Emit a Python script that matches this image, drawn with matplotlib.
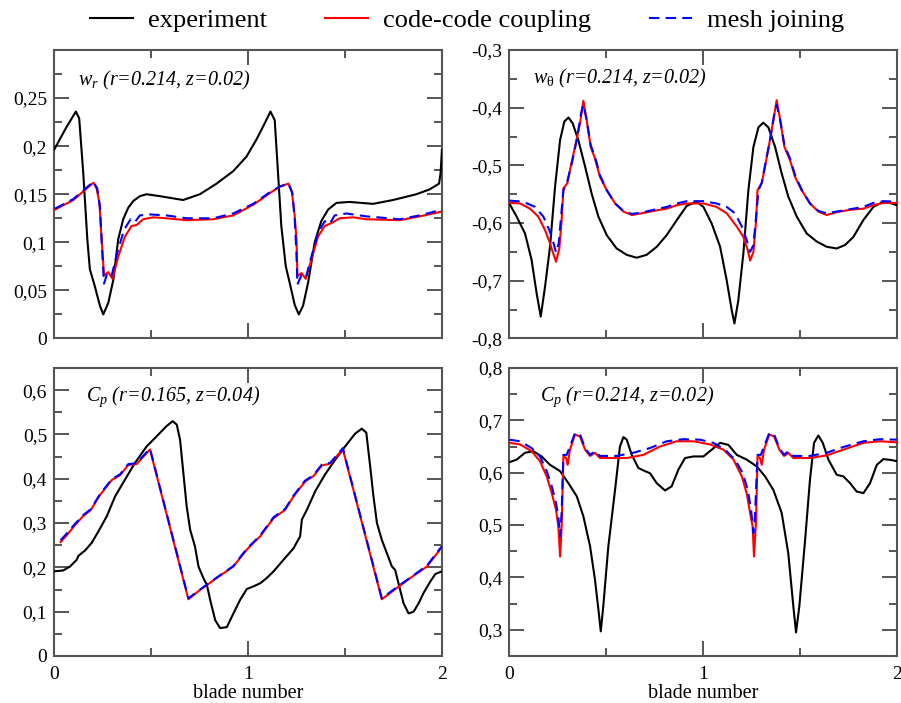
"""Blade-to-blade profiles: experiment vs. code-code coupling vs. mesh joining."""

import matplotlib
matplotlib.use("Agg")
import matplotlib.pyplot as plt
from matplotlib.ticker import FixedLocator, FuncFormatter, MultipleLocator

plt.rcParams["font.family"] = ["Liberation Serif", "DejaVu Serif"]
plt.rcParams["mathtext.fontset"] = "custom"
plt.rcParams["mathtext.rm"] = "Liberation Serif"
plt.rcParams["mathtext.it"] = "Liberation Serif:italic"

# ---- w_r (r=0.214, z=0.02) ----
WR_EXP_X = [0, 0.065, 0.113, 0.130, 0.151, 0.172, 0.185, 0.211, 0.237, 0.254, 0.280, 0.306,
            0.331, 0.357, 0.383, 0.409, 0.443, 0.477, 0.546, 0.666, 0.752, 0.838, 0.924,
            0.992, 1.044, 1.087, 1.116, 1.138, 1.155, 1.172, 1.195, 1.215, 1.241, 1.262,
            1.284, 1.310, 1.344, 1.378, 1.413, 1.456, 1.524, 1.645, 1.748, 1.868, 1.936,
            1.985, 1.993, 2.0]
WR_EXP = [0.196, 0.220, 0.236, 0.229, 0.172, 0.103, 0.072, 0.054, 0.034, 0.025, 0.037, 0.061,
          0.103, 0.124, 0.136, 0.143, 0.148, 0.150, 0.148, 0.144, 0.150, 0.161, 0.174,
          0.189, 0.207, 0.224, 0.236, 0.227, 0.172, 0.117, 0.075, 0.058, 0.035, 0.025,
          0.034, 0.058, 0.100, 0.122, 0.134, 0.141, 0.142, 0.140, 0.144, 0.150, 0.155,
          0.161, 0.172, 0.196]
WR_CPL_X = [0.005, 0.100, 0.203, 0.220, 0.234, 0.246, 0.258, 0.280, 0.302, 0.331, 0.366, 0.400,
            0.426, 0.460, 0.512, 0.580, 0.683, 0.821, 0.924, 1.027, 1.112, 1.164, 1.209,
            1.226, 1.240, 1.250, 1.255, 1.276, 1.298, 1.327, 1.361, 1.396, 1.430, 1.473,
            1.542, 1.610, 1.782, 1.885, 2.0]
WR_CPL = [0.134, 0.144, 0.162, 0.156, 0.141, 0.103, 0.066, 0.069, 0.062, 0.085, 0.106, 0.117,
          0.118, 0.124, 0.126, 0.125, 0.123, 0.124, 0.128, 0.139, 0.151, 0.158, 0.161,
          0.153, 0.130, 0.103, 0.065, 0.068, 0.062, 0.082, 0.106, 0.117, 0.120, 0.125,
          0.126, 0.124, 0.123, 0.127, 0.132]
WR_MSH_X = [0.005, 0.100, 0.203, 0.223, 0.237, 0.247, 0.258, 0.275, 0.297, 0.326, 0.361, 0.395,
            0.417, 0.443, 0.494, 0.580, 0.683, 0.821, 0.924, 1.027, 1.112, 1.164, 1.209,
            1.229, 1.241, 1.250, 1.255, 1.276, 1.298, 1.327, 1.361, 1.396, 1.421, 1.447,
            1.507, 1.610, 1.782, 1.885, 2.0]
WR_MSH = [0.135, 0.145, 0.163, 0.156, 0.137, 0.096, 0.057, 0.068, 0.065, 0.089, 0.113, 0.124,
          0.121, 0.128, 0.129, 0.128, 0.125, 0.125, 0.130, 0.140, 0.152, 0.158, 0.161,
          0.151, 0.124, 0.089, 0.056, 0.066, 0.063, 0.085, 0.110, 0.122, 0.119, 0.128,
          0.130, 0.127, 0.124, 0.128, 0.134]

# ---- w_theta (r=0.214, z=0.02) ----
WT_EXP_X = [0, 0.038, 0.081, 0.115, 0.141, 0.162, 0.184, 0.210, 0.236, 0.262, 0.284, 0.305,
            0.327, 0.356, 0.391, 0.425, 0.460, 0.503, 0.554, 0.606, 0.657, 0.709, 0.761,
            0.812, 0.864, 0.916, 0.967, 1.002, 1.045, 1.088, 1.122, 1.148, 1.162, 1.182,
            1.208, 1.234, 1.260, 1.286, 1.311, 1.337, 1.372, 1.406, 1.440, 1.484, 1.535,
            1.587, 1.638, 1.690, 1.733, 1.776, 1.827, 1.879, 1.931, 1.974, 2.0]
WT_EXP = [-0.566, -0.589, -0.618, -0.664, -0.722, -0.762, -0.711, -0.641, -0.537, -0.456,
          -0.424, -0.417, -0.427, -0.456, -0.502, -0.549, -0.589, -0.621, -0.644, -0.655,
          -0.660, -0.655, -0.641, -0.621, -0.595, -0.570, -0.563, -0.572, -0.601, -0.641,
          -0.699, -0.751, -0.774, -0.734, -0.653, -0.543, -0.468, -0.434, -0.426, -0.434,
          -0.468, -0.514, -0.554, -0.589, -0.618, -0.632, -0.641, -0.644, -0.638, -0.624,
          -0.595, -0.572, -0.563, -0.566, -0.569]
WT_CPL_X = [0, 0.055, 0.107, 0.150, 0.184, 0.210, 0.227, 0.241, 0.258, 0.270, 0.279, 0.299,
            0.317, 0.339, 0.365, 0.382, 0.399, 0.420, 0.442, 0.468, 0.503, 0.546, 0.589,
            0.632, 0.683, 0.743, 0.812, 0.864, 0.916, 1.002, 1.070, 1.122, 1.174, 1.208,
            1.231, 1.243, 1.260, 1.274, 1.281, 1.303, 1.320, 1.342, 1.363, 1.380, 1.398,
            1.420, 1.449, 1.475, 1.509, 1.552, 1.595, 1.638, 1.690, 1.759, 1.827, 1.879,
            1.931, 2.0]
WT_CPL = [-0.565, -0.566, -0.575, -0.589, -0.612, -0.635, -0.653, -0.667, -0.644, -0.595,
          -0.540, -0.531, -0.502, -0.468, -0.427, -0.388, -0.421, -0.468, -0.488, -0.520,
          -0.543, -0.566, -0.580, -0.586, -0.583, -0.579, -0.575, -0.569, -0.566, -0.566,
          -0.572, -0.583, -0.606, -0.624, -0.647, -0.665, -0.650, -0.595, -0.543, -0.531,
          -0.502, -0.462, -0.421, -0.387, -0.421, -0.468, -0.491, -0.520, -0.543, -0.566,
          -0.580, -0.586, -0.581, -0.577, -0.575, -0.569, -0.565, -0.565]
WT_MSH_X = [0, 0.072, 0.133, 0.176, 0.210, 0.231, 0.241, 0.255, 0.267, 0.279, 0.299, 0.322,
            0.348, 0.370, 0.382, 0.399, 0.420, 0.442, 0.468, 0.503, 0.546, 0.589, 0.632,
            0.683, 0.743, 0.812, 0.864, 0.916, 1.002, 1.070, 1.122, 1.165, 1.200, 1.225,
            1.243, 1.260, 1.274, 1.286, 1.303, 1.325, 1.346, 1.367, 1.380, 1.398, 1.420,
            1.449, 1.475, 1.509, 1.552, 1.595, 1.638, 1.690, 1.759, 1.827, 1.879, 1.931, 2.0]
WT_MSH = [-0.561, -0.563, -0.572, -0.589, -0.615, -0.638, -0.651, -0.635, -0.589, -0.543,
          -0.528, -0.497, -0.456, -0.410, -0.395, -0.421, -0.465, -0.485, -0.517, -0.543,
          -0.566, -0.579, -0.584, -0.582, -0.577, -0.572, -0.566, -0.562, -0.562, -0.566,
          -0.572, -0.583, -0.606, -0.629, -0.650, -0.638, -0.589, -0.543, -0.530, -0.491,
          -0.456, -0.413, -0.395, -0.421, -0.465, -0.488, -0.517, -0.542, -0.566, -0.579,
          -0.583, -0.580, -0.576, -0.572, -0.565, -0.562, -0.563]

# ---- C_p (r=0.165, z=0.04) ----
CP1_EXP_X = [0, 0.048, 0.083, 0.117, 0.126, 0.160, 0.194, 0.229, 0.272, 0.315, 0.366, 0.418,
             0.478, 0.530, 0.581, 0.612, 0.633, 0.650, 0.667, 0.684, 0.702, 0.727, 0.745,
             0.770, 0.788, 0.805, 0.831, 0.856, 0.891, 0.925, 0.960, 0.994, 1.028, 1.063,
             1.097, 1.132, 1.183, 1.235, 1.269, 1.278, 1.304, 1.347, 1.398, 1.450, 1.501,
             1.553, 1.587, 1.610, 1.630, 1.647, 1.665, 1.690, 1.716, 1.742, 1.759, 1.776,
             1.802, 1.828, 1.854, 1.880, 1.905, 1.940, 1.966, 2.0]
CP1_EXP = [0.191, 0.193, 0.202, 0.217, 0.226, 0.238, 0.255, 0.281, 0.315, 0.360, 0.398, 0.436,
           0.473, 0.496, 0.519, 0.530, 0.522, 0.488, 0.413, 0.338, 0.285, 0.247, 0.202,
           0.176, 0.161, 0.127, 0.081, 0.063, 0.065, 0.096, 0.127, 0.151, 0.157, 0.164,
           0.176, 0.191, 0.217, 0.243, 0.270, 0.308, 0.330, 0.372, 0.410, 0.443, 0.473,
           0.502, 0.513, 0.504, 0.428, 0.360, 0.300, 0.262, 0.232, 0.202, 0.194, 0.164,
           0.119, 0.096, 0.100, 0.119, 0.142, 0.168, 0.185, 0.191]
CP1_CPL_X = [0.034, 0.065, 0.108, 0.151, 0.189, 0.237, 0.298, 0.341, 0.383, 0.426, 0.461,
             0.495, 0.693, 0.753, 0.839, 0.925, 0.994, 1.063, 1.132, 1.192, 1.235, 1.295,
             1.338, 1.381, 1.424, 1.458, 1.489, 1.690, 1.751, 1.837, 1.923, 2.0]
CP1_CPL = [0.257, 0.272, 0.295, 0.316, 0.329, 0.363, 0.397, 0.408, 0.431, 0.433, 0.450,
           0.466, 0.128, 0.149, 0.176, 0.202, 0.240, 0.270, 0.311, 0.330, 0.360, 0.394,
           0.406, 0.430, 0.434, 0.451, 0.467, 0.128, 0.148, 0.176, 0.202, 0.246]
CP1_MSH_X = [0.034, 0.065, 0.108, 0.151, 0.189, 0.237, 0.298, 0.341, 0.383, 0.426, 0.461,
             0.495, 0.693, 0.753, 0.839, 0.925, 0.994, 1.063, 1.132, 1.192, 1.235, 1.295,
             1.338, 1.381, 1.424, 1.458, 1.489, 1.690, 1.751, 1.837, 1.923, 2.0]
CP1_MSH = [0.261, 0.276, 0.298, 0.318, 0.331, 0.365, 0.399, 0.410, 0.433, 0.435, 0.452,
           0.468, 0.130, 0.150, 0.177, 0.203, 0.242, 0.272, 0.313, 0.332, 0.362, 0.396,
           0.408, 0.432, 0.436, 0.453, 0.469, 0.130, 0.150, 0.177, 0.204, 0.248]

# ---- C_p (r=0.214, z=0.02) ----
CP2_EXP_X = [0, 0.038, 0.081, 0.124, 0.167, 0.210, 0.262, 0.305, 0.348, 0.382, 0.417, 0.442,
             0.460, 0.472, 0.485, 0.511, 0.546, 0.571, 0.589, 0.606, 0.632, 0.666, 0.700,
             0.726, 0.761, 0.804, 0.838, 0.873, 0.907, 0.950, 1.002, 1.045, 1.088, 1.131,
             1.174, 1.225, 1.277, 1.320, 1.363, 1.406, 1.440, 1.466, 1.480, 1.497, 1.527,
             1.552, 1.573, 1.595, 1.618, 1.647, 1.690, 1.724, 1.759, 1.793, 1.828, 1.862,
             1.897, 1.931, 1.974, 2.0]
CP2_EXP = [0.620, 0.625, 0.638, 0.641, 0.631, 0.615, 0.603, 0.580, 0.555, 0.517, 0.459, 0.396,
           0.338, 0.297, 0.345, 0.459, 0.568, 0.650, 0.668, 0.663, 0.634, 0.609, 0.603,
           0.599, 0.580, 0.566, 0.574, 0.606, 0.628, 0.631, 0.631, 0.644, 0.657, 0.653,
           0.634, 0.625, 0.612, 0.593, 0.567, 0.523, 0.446, 0.345, 0.295, 0.345, 0.472,
           0.587, 0.657, 0.671, 0.657, 0.625, 0.596, 0.593, 0.580, 0.564, 0.561, 0.580,
           0.615, 0.626, 0.624, 0.622]
CP2_CPL_X = [0, 0.055, 0.115, 0.158, 0.193, 0.219, 0.241, 0.253, 0.262, 0.270, 0.279, 0.293,
             0.301, 0.313, 0.339, 0.365, 0.391, 0.417, 0.442, 0.468, 0.520, 0.606, 0.692,
             0.778, 0.864, 0.950, 1.036, 1.105, 1.157, 1.200, 1.225, 1.243, 1.256, 1.263,
             1.274, 1.281, 1.294, 1.303, 1.315, 1.342, 1.367, 1.394, 1.418, 1.440, 1.466,
             1.552, 1.638, 1.724, 1.828, 1.914, 2.0]
CP2_CPL = [0.657, 0.654, 0.641, 0.622, 0.593, 0.561, 0.529, 0.497, 0.440, 0.497, 0.631, 0.628,
           0.615, 0.644, 0.673, 0.669, 0.644, 0.632, 0.638, 0.628, 0.628, 0.628, 0.634,
           0.650, 0.660, 0.660, 0.654, 0.644, 0.625, 0.593, 0.561, 0.523, 0.497, 0.440,
           0.510, 0.631, 0.628, 0.615, 0.644, 0.673, 0.669, 0.644, 0.632, 0.638, 0.628,
           0.628, 0.633, 0.644, 0.657, 0.660, 0.658]
CP2_MSH_X = [0, 0.055, 0.115, 0.158, 0.193, 0.219, 0.241, 0.253, 0.262, 0.270, 0.279, 0.296,
             0.313, 0.339, 0.365, 0.391, 0.417, 0.442, 0.468, 0.554, 0.640, 0.726, 0.812,
             0.898, 0.984, 1.053, 1.113, 1.165, 1.205, 1.231, 1.248, 1.260, 1.268, 1.281,
             1.298, 1.315, 1.342, 1.367, 1.394, 1.418, 1.440, 1.466, 1.552, 1.638, 1.724,
             1.828, 1.914, 2.0]
CP2_MSH = [0.663, 0.660, 0.647, 0.631, 0.603, 0.574, 0.542, 0.516, 0.478, 0.523, 0.634, 0.634,
           0.650, 0.676, 0.673, 0.647, 0.634, 0.641, 0.632, 0.632, 0.638, 0.647, 0.660,
           0.664, 0.663, 0.657, 0.644, 0.625, 0.599, 0.567, 0.529, 0.485, 0.516, 0.634,
           0.634, 0.650, 0.676, 0.673, 0.647, 0.634, 0.641, 0.632, 0.632, 0.638, 0.649,
           0.660, 0.664, 0.663]

LABELS = ["experiment", "code-code coupling", "mesh joining"]

AX_GREY = "#555555"


def comma(v, _pos):
    return f"{round(v, 4):g}".replace(".", ",")


def style_axes(ax, ylim, major, minor, labeled, show_x):
    ax.set_xlim(0, 2)
    ax.set_ylim(*ylim)
    ax.xaxis.set_major_locator(FixedLocator([0, 1, 2]))
    ax.xaxis.set_minor_locator(FixedLocator([0.5, 1.5]))
    ax.yaxis.set_major_locator(FixedLocator(labeled))
    ax.yaxis.set_minor_locator(MultipleLocator(minor))
    ax.yaxis.set_major_formatter(FuncFormatter(comma))
    ax.tick_params(which="both", direction="in", top=True, right=True,
                   color=AX_GREY, width=1.4, labelsize=14, labelcolor="black")
    ax.tick_params(which="major", length=11)
    ax.tick_params(which="minor", length=5.5)
    ax.tick_params(axis="y", pad=5)
    ax.tick_params(axis="x", pad=7)
    for sp in ax.spines.values():
        sp.set_color(AX_GREY)
        sp.set_linewidth(1.5)
    if show_x:
        ax.set_xlabel("blade number", fontsize=14.5, labelpad=1)
    else:
        ax.set_xticklabels([])


def draw(ax, xe, ye, xc, yc, xm, ym):
    ax.plot(xe, ye, color="black", lw=1.5, zorder=3)
    ax.plot(xc, yc, color="red", lw=1.5, zorder=4)
    ax.plot(xm, ym, color="blue", lw=1.5, ls=(0, (5, 3)), zorder=5)


fig = plt.figure(figsize=(9.01, 7.03), dpi=100)
ax1 = fig.add_axes([0.0599, 0.5185, 0.4306, 0.4104])
ax2 = fig.add_axes([0.5653, 0.5185, 0.4300, 0.4104])
ax3 = fig.add_axes([0.0599, 0.0669, 0.4306, 0.4097])
ax4 = fig.add_axes([0.5653, 0.0669, 0.4300, 0.4097])

draw(ax1, WR_EXP_X, WR_EXP, WR_CPL_X, WR_CPL, WR_MSH_X, WR_MSH)
style_axes(ax1, (0, 0.3), 0.05, 0.025, [0, 0.05, 0.1, 0.15, 0.2, 0.25], False)
ax1.text(0.062, 0.895, r"$w_r$ (r=0.214, z=0.02)", transform=ax1.transAxes,
         fontsize=14.5, style="italic", va="center")

draw(ax2, WT_EXP_X, WT_EXP, WT_CPL_X, WT_CPL, WT_MSH_X, WT_MSH)
style_axes(ax2, (-0.8, -0.3), 0.1, 0.05, [-0.8, -0.7, -0.6, -0.5, -0.4, -0.3], False)
ax2.text(0.062, 0.9, r"$w_{\mathrm{θ}}$ (r=0.214, z=0.02)", transform=ax2.transAxes,
         fontsize=14.5, style="italic", va="center")

draw(ax3, CP1_EXP_X, CP1_EXP, CP1_CPL_X, CP1_CPL, CP1_MSH_X, CP1_MSH)
style_axes(ax3, (0, 0.65), 0.1, 0.05, [0, 0.1, 0.2, 0.3, 0.4, 0.5, 0.6], True)
ax3.text(0.082, 0.9, r"$C_p$ (r=0.165, z=0.04)", transform=ax3.transAxes,
         fontsize=14.5, style="italic", va="center")

draw(ax4, CP2_EXP_X, CP2_EXP, CP2_CPL_X, CP2_CPL, CP2_MSH_X, CP2_MSH)
style_axes(ax4, (0.25, 0.8), 0.1, 0.05, [0.3, 0.4, 0.5, 0.6, 0.7, 0.8], True)
ax4.text(0.078, 0.9, r"$C_p$ (r=0.214, z=0.02)", transform=ax4.transAxes,
         fontsize=14.5, style="italic", va="center")

handles = ax1.get_lines()
fig.legend(handles, LABELS, loc="center", bbox_to_anchor=(0.518, 1 - 20.5 / 703),
           ncol=3, frameon=False, fontsize=19, handlelength=1.63,
           handletextpad=0.57, columnspacing=2.2, borderpad=0)

fig.savefig("out.png", dpi=100)
